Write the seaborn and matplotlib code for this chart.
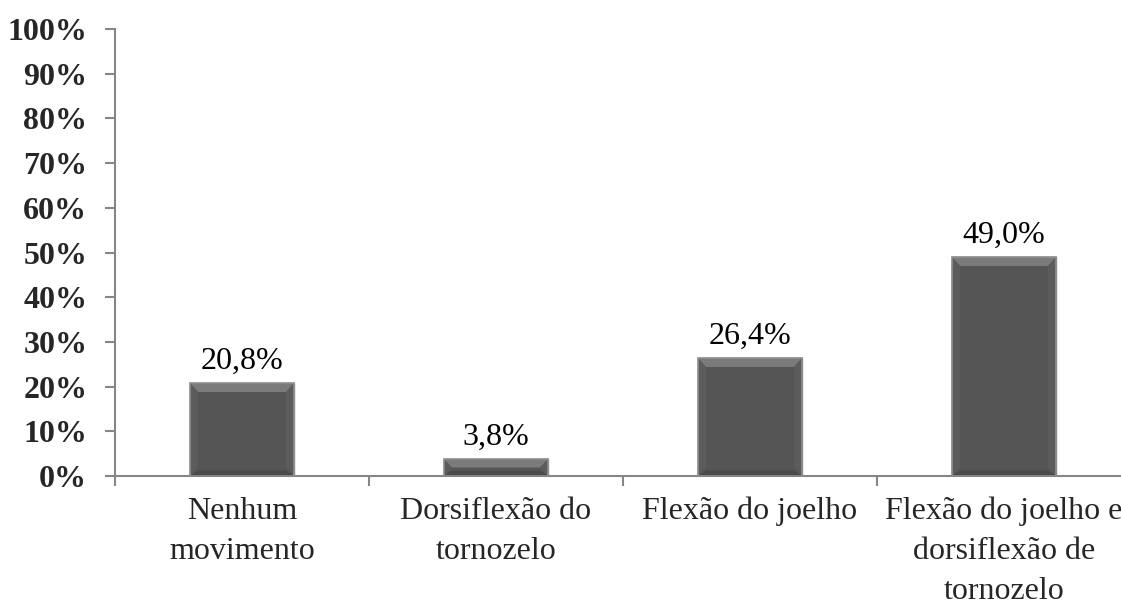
import matplotlib
matplotlib.use("Agg")
import matplotlib.pyplot as plt
from matplotlib.patches import Polygon
import seaborn as sns
import pandas as pd

categories = ["Nenhum\nmovimento", "Dorsiflexão do\ntornozelo",
              "Flexão do joelho", "Flexão do joelho e\ndorsiflexão de\ntornozelo"]
values = [20.8, 3.8, 26.4, 49.0]
y_ticks = [0, 10, 20, 30, 40, 50, 60, 70, 80, 90, 100]
y_tick_labels = [f"{t}%" for t in y_ticks]

sns.set_theme(style="white")
plt.rcParams["font.family"] = ["Liberation Serif", "DejaVu Serif"]

W, H = 1121, 603
fig = plt.figure(figsize=(W / 100, H / 100), dpi=100)
ax_left, ax_bottom, ax_w, ax_h = 115, 127, 1016, 447
ax = fig.add_axes([ax_left / W, ax_bottom / H, ax_w / W, ax_h / H])

df = pd.DataFrame({"cat": categories, "val": values})
sns.barplot(data=df, x="cat", y="val", color="#555555", saturation=1,
            width=0.41, edgecolor="#8a8a8a", linewidth=1.0, ax=ax, zorder=3)

ax.set_xlim(-0.5, len(categories) - 0.5)
ax.set_ylim(0, 100)

# bevelled look on each bar: light top, slightly lighter sides, darker base
px_x = (len(categories)) / ax_w
px_y = 100 / ax_h
for p in ax.patches[:len(values)]:
    x0, w, h = p.get_x(), p.get_width(), p.get_height()
    x1 = x0 + w
    b = min(9 * px_y, h / 2)
    bx = min(8 * px_x, w / 4)
    top = Polygon([(x0, h), (x1, h), (x1 - bx, h - b), (x0 + bx, h - b)],
                  closed=True, facecolor="#7b7b7b", edgecolor="none", zorder=4)
    left = Polygon([(x0, h), (x0 + bx, h - b), (x0 + bx, b), (x0, 0)],
                   closed=True, facecolor="#5c5c5c", edgecolor="none", zorder=4)
    right = Polygon([(x1, h), (x1 - bx, h - b), (x1 - bx, b), (x1, 0)],
                    closed=True, facecolor="#5c5c5c", edgecolor="none", zorder=4)
    base = Polygon([(x0, 0), (x1, 0), (x1 - bx, b * 0.6), (x0 + bx, b * 0.6)],
                   closed=True, facecolor="#4a4a4a", edgecolor="none", zorder=4)
    for poly in (top, left, right, base):
        ax.add_patch(poly)
    ax.add_patch(plt.Rectangle((x0, 0), w, h, fill=False, edgecolor="#8f8f8f",
                               linewidth=1.2, zorder=5))

# value labels
for i, v in enumerate(values):
    ax.annotate(f"{v:.1f}%".replace(".", ","), (i, v), xytext=(0, 5),
                textcoords="offset points", ha="center", va="bottom",
                fontsize=23, color="black", zorder=6)

ax.set_yticks(y_ticks)
ax.set_yticklabels(y_tick_labels, fontsize=23, fontweight="bold")
ax.set_xticks(range(len(categories)))
ax.set_xticklabels(categories, fontsize=23, linespacing=1.5)
ax.set_xticks([i - 0.5 for i in range(len(categories) + 1)], minor=True)
ax.tick_params(axis="x", which="major", length=0, pad=15)
ax.tick_params(axis="x", which="minor", length=7, width=1.5, color="#868686",
               direction="out", bottom=True)
ax.tick_params(axis="y", length=7, width=1.5, color="#868686", direction="out",
               left=True, pad=13)
ax.set_xlabel("")
ax.set_ylabel("")

for s in ("top", "right"):
    ax.spines[s].set_visible(False)
for s in ("left", "bottom"):
    ax.spines[s].set_color("#868686")
    ax.spines[s].set_linewidth(1.5)
ax.spines["bottom"].set_zorder(2)

fig.savefig("out.png", dpi=100, facecolor="white")
